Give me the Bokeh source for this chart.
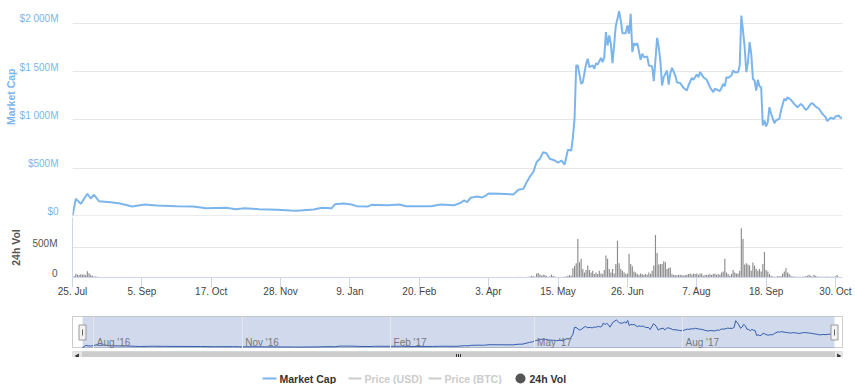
import numpy as np
import pandas as pd
from bokeh.plotting import figure
from bokeh.layouts import column
from bokeh.models import (Range1d, LinearAxis, FixedTicker, CustomJSTickFormatter,
                          Title, Span, Grid)
from bokeh.core.properties import value
from bokeh.embed import file_html
from bokeh.resources import INLINE

# ---------------- data ($ millions) ----------------
MC_DATES = [
    "2016-07-25", "2016-07-27", "2016-07-30", "2016-08-03", "2016-08-05", "2016-08-07",
    "2016-08-10", "2016-08-17", "2016-08-22", "2016-08-26", "2016-08-30", "2016-09-03",
    "2016-09-07", "2016-09-14", "2016-09-26", "2016-10-06", "2016-10-14", "2016-10-26",
    "2016-11-01", "2016-11-06", "2016-11-15", "2016-11-26", "2016-12-04", "2016-12-08",
    "2016-12-18", "2016-12-23", "2016-12-29", "2016-12-31", "2017-01-05", "2017-01-10",
    "2017-01-13", "2017-01-20", "2017-01-22", "2017-02-01", "2017-02-08", "2017-02-12",
    "2017-02-27", "2017-03-05", "2017-03-13", "2017-03-17", "2017-03-19", "2017-03-21",
    "2017-03-23", "2017-03-27", "2017-03-30", "2017-04-01", "2017-04-03", "2017-04-10",
    "2017-04-16", "2017-04-18", "2017-04-21", "2017-04-24", "2017-04-26", "2017-04-28",
    "2017-04-30", "2017-05-02", "2017-05-04", "2017-05-06", "2017-05-08", "2017-05-10",
    "2017-05-13", "2017-05-15", "2017-05-17", "2017-05-19", "2017-05-21", "2017-05-23",
    "2017-05-24", "2017-05-25", "2017-05-26", "2017-05-27", "2017-05-29", "2017-05-30",
    "2017-06-01", "2017-06-02", "2017-06-03", "2017-06-05", "2017-06-06", "2017-06-07",
    "2017-06-08", "2017-06-10", "2017-06-11", "2017-06-12", "2017-06-13", "2017-06-14",
    "2017-06-15", "2017-06-16", "2017-06-17", "2017-06-19", "2017-06-20", "2017-06-21",
    "2017-06-22", "2017-06-23", "2017-06-25", "2017-06-26", "2017-06-27", "2017-06-28",
    "2017-06-29", "2017-06-30", "2017-07-01", "2017-07-02", "2017-07-04", "2017-07-05",
    "2017-07-06", "2017-07-08", "2017-07-09", "2017-07-11", "2017-07-12", "2017-07-14",
    "2017-07-15", "2017-07-16", "2017-07-17", "2017-07-18", "2017-07-20", "2017-07-21",
    "2017-07-22", "2017-07-23", "2017-07-25", "2017-07-26", "2017-07-28", "2017-07-30",
    "2017-08-01", "2017-08-02", "2017-08-04", "2017-08-05", "2017-08-07", "2017-08-08",
    "2017-08-09", "2017-08-11", "2017-08-13", "2017-08-15", "2017-08-17", "2017-08-18",
    "2017-08-21", "2017-08-22", "2017-08-23", "2017-08-24", "2017-08-25", "2017-08-26",
    "2017-08-28", "2017-08-29", "2017-08-30", "2017-09-01", "2017-09-02", "2017-09-03",
    "2017-09-04", "2017-09-05", "2017-09-06", "2017-09-07", "2017-09-08", "2017-09-09",
    "2017-09-10", "2017-09-11", "2017-09-12", "2017-09-13", "2017-09-14", "2017-09-15",
    "2017-09-16", "2017-09-17", "2017-09-18", "2017-09-19", "2017-09-20", "2017-09-21",
    "2017-09-23", "2017-09-24", "2017-09-26", "2017-09-27", "2017-09-29", "2017-09-30",
    "2017-10-01", "2017-10-03", "2017-10-05", "2017-10-07", "2017-10-09", "2017-10-10",
    "2017-10-12", "2017-10-13", "2017-10-15", "2017-10-16", "2017-10-18", "2017-10-20",
    "2017-10-22", "2017-10-24", "2017-10-25", "2017-10-27", "2017-10-29", "2017-10-30",
    "2017-11-01", "2017-11-02", "2017-11-03",
]
MC_VALUES = [
    8, 183, 131, 235, 186, 225,
    159, 148, 138, 121, 104, 114,
    124, 114, 107, 104, 86, 90,
    76, 86, 76, 69, 62, 59,
    72, 90, 86, 128, 135, 124,
    107, 104, 121, 117, 124, 107,
    107, 124, 117, 141, 166, 148,
    193, 207, 197, 214, 238, 235,
    231, 228, 276, 286, 355, 414,
    459, 562, 597, 666, 655, 597,
    580, 556, 580, 538, 690, 683,
    821, 1011, 1563, 1563, 1373, 1390,
    1580, 1632, 1545, 1563, 1529, 1587,
    1573, 1642, 1597, 1649, 1908, 1770,
    1873, 1787, 1587, 1977, 2046, 2125,
    2029, 1897, 1897, 1977, 1891, 2098,
    1701, 1794, 1770, 1794, 1622, 1684,
    1649, 1656, 1563, 1552, 1400, 1849,
    1752, 1597, 1356, 1442, 1511, 1366,
    1483, 1539, 1459, 1390, 1380, 1332,
    1304, 1356, 1435, 1415, 1470, 1442,
    1494, 1442, 1415, 1338, 1287, 1322,
    1297, 1332, 1373, 1346, 1442, 1435,
    1459, 1511, 1494, 1494, 1563, 2080,
    1925, 1752, 1494, 1597, 1804, 1684,
    1425, 1408, 1304, 1415, 1346, 1338,
    942, 994, 932, 976, 1131, 1063,
    966, 994, 1011, 1097, 1218, 1201,
    1235, 1208, 1166, 1131, 1166, 1149,
    1104, 1115, 1166, 1173, 1139, 1115,
    1063, 1028, 987, 1022, 1011, 1035,
    1045, 1022, 1022,
]

# 24h volume, $ millions, one value per consecutive day
VOL_EARLY_START = "2016-07-26"
VOL_EARLY = [20, 62, 45, 40, 55, 45, 50, 40, 105, 70, 45, 30, 17, 15, 12, 10]
VOL_START = "2017-04-22"
VOL_DAILY = [
    11, 5, 8, 5, 8, 11, 17, 28, 20, 17,
    68, 74, 50, 34, 45, 40, 25, 11, 17, 45,
    25, 17, 8, 5, 5, 3, 11, 11, 15, 28,
    40, 28, 153, 190, 238, 640, 255, 312, 142, 85,
    125, 198, 125, 85, 113, 57, 85, 57, 113, 68,
    57, 125, 368, 312, 142, 85, 142, 68, 227, 612,
    238, 142, 113, 85, 57, 68, 397, 227, 187, 102,
    85, 57, 45, 68, 57, 45, 57, 45, 85, 57,
    113, 198, 709, 408, 215, 227, 227, 272, 255, 142,
    159, 165, 57, 42, 40, 36, 45, 40, 40, 28,
    40, 45, 57, 68, 45, 68, 57, 68, 45, 68,
    68, 28, 40, 45, 45, 57, 40, 57, 68, 45,
    57, 45, 85, 102, 312, 85, 57, 28, 57, 125,
    85, 68, 68, 113, 822, 640, 215, 238, 215, 198,
    113, 249, 198, 142, 113, 142, 102, 227, 425, 125,
    102, 57, 28, 17, 11, 11, 23, 17, 23, 68,
    102, 159, 85, 57, 28, 17, 17, 14, 11, 14,
    11, 14, 17, 20, 28, 45, 28, 17, 45, 28,
    17, 14, 11, 14, 11, 14, 17, 14, 11, 14,
    11, 20, 40, 11, 10, 10,
]

X_TICK_DATES = ["2016-07-25", "2016-09-05", "2016-10-17", "2016-11-28", "2017-01-09",
                "2017-02-20", "2017-04-03", "2017-05-15", "2017-06-26", "2017-08-07",
                "2017-09-18", "2017-10-30"]
X_TICK_LABELS = ["25. Jul", "5. Sep", "17. Oct", "28. Nov", "9. Jan", "20. Feb",
                 "3. Apr", "15. May", "26. Jun", "7. Aug", "18. Sep", "30. Oct"]
MC_TICKS = [0, 500, 1000, 1500, 2000]
MC_TICK_LABELS = ["$0", "$500M", "$1 000M", "$1 500M", "$2 000M"]
VOL_TICKS = [0, 500]
VOL_TICK_LABELS = ["0", "500M"]
NAV_TICK_DATES = ["2016-08-01", "2016-11-01", "2017-02-01", "2017-05-01", "2017-08-01"]
NAV_TICK_LABELS = ["Aug '16", "Nov '16", "Feb '17", "May '17", "Aug '17"]
LEGEND_NAMES = ["Market Cap", "Price (USD)", "Price (BTC)", "24h Vol"]
Y_TITLES = ["Market Cap", "24h Vol"]

# ---------------- helpers ----------------
def to_ms(dates):
    return [pd.Timestamp(d).value / 1e6 for d in dates]

def label_formatter(tick_values, tick_labels):
    return CustomJSTickFormatter(args=dict(tvals=list(tick_values), tlabs=list(tick_labels)), code="""
        let b = 0;
        for (let i = 1; i < tvals.length; i++) {
            if (Math.abs(tvals[i] - tick) < Math.abs(tvals[b] - tick)) { b = i; }
        }
        return tlabs[b];
    """)

def no_grids(p):
    for g in list(p.grid):
        g.visible = False

FONT = "Liberation Sans"
W = 855
BL, BR = 72, 13          # frame from x=72 to x=842 in every pane
DAY = 86400000.0

mc_x = to_ms(MC_DATES)
vol_x = to_ms(pd.date_range(VOL_EARLY_START, periods=len(VOL_EARLY), freq="D")) + \
        to_ms(pd.date_range(VOL_START, periods=len(VOL_DAILY), freq="D"))
vol_y = VOL_EARLY + VOL_DAILY
x_tick_ms = to_ms(X_TICK_DATES)
nav_tick_ms = to_ms(NAV_TICK_DATES)

x0 = mc_x[0]
x1 = mc_x[-1] + 0.25 * DAY

MC_TOP = 2132
VOL_TOP = 1000

def common(**kw):
    d = dict(toolbar_location=None, output_backend="svg", width=W,
             min_border_left=BL, min_border_right=BR)
    d.update(kw)
    return d

# ---------------- main pane ----------------
main = figure(**common(height=216, x_range=Range1d(x0, x1), y_range=Range1d(0, MC_TOP),
                       x_axis_location=None, y_axis_location=None,
                       min_border_top=10, min_border_bottom=0))
no_grids(main)
main.outline_line_color = None
shift_mc = 4.5 * MC_TOP / 206.0
main.extra_y_ranges = {"lab": Range1d(-shift_mc, MC_TOP - shift_mc)}
ax = LinearAxis(y_range_name="lab", ticker=FixedTicker(ticks=MC_TICKS),
                formatter=label_formatter(MC_TICKS, MC_TICK_LABELS))
ax.axis_line_color = None
ax.major_tick_line_color = None
ax.minor_tick_line_color = None
ax.major_tick_out = 0
ax.minor_tick_out = 0
ax.major_label_standoff = 14
ax.major_label_text_color = "#7cb5ec"
ax.major_label_text_font = FONT
ax.major_label_text_font_size = "10px"
main.add_layout(ax, "left")
main.add_layout(Title(text=Y_TITLES[0], align="right", offset=58, standoff=0,
                      text_color="#7cb5ec", text_font=FONT, text_font_size="10.5px",
                      text_font_style="bold"), "left")
main.add_layout(Grid(dimension=1, ticker=FixedTicker(ticks=MC_TICKS[1:]),
                     grid_line_color="#e6e6e6"))
main.add_layout(Span(location=0, dimension="width", line_color="#d9d9d9", line_width=2))
main.line(mc_x, MC_VALUES, line_color="#7cb5ec", line_width=2)

# ---------------- volume pane ----------------
vol = figure(**common(height=84, x_range=main.x_range, y_range=Range1d(0, VOL_TOP),
                      y_axis_location=None, min_border_top=1, min_border_bottom=23))
no_grids(vol)
vol.outline_line_color = None
xa = vol.xaxis[0]
xa.ticker = FixedTicker(ticks=x_tick_ms)
xa.formatter = label_formatter(x_tick_ms, X_TICK_LABELS)
xa.axis_line_color = "#ccd6eb"
xa.major_tick_line_color = "#ccd6eb"
xa.minor_tick_line_color = None
xa.major_tick_out = 10
xa.major_tick_in = 0
xa.major_label_standoff = -2
xa.major_label_text_color = "#444444"
xa.major_label_text_font = FONT
xa.major_label_text_font_size = "10px"
shift_v = 4.5 * VOL_TOP / 60.0
vol.extra_y_ranges = {"lab": Range1d(-shift_v, VOL_TOP - shift_v)}
va = LinearAxis(y_range_name="lab", ticker=FixedTicker(ticks=VOL_TICKS),
                formatter=label_formatter(VOL_TICKS, VOL_TICK_LABELS))
va.axis_line_color = "#ccd6eb"
va.major_tick_line_color = None
va.minor_tick_line_color = None
va.major_tick_out = 0
va.minor_tick_out = 0
va.major_label_standoff = 15
va.major_label_text_color = "#555555"
va.major_label_text_font = FONT
va.major_label_text_font_size = "10px"
va.axis_label = Y_TITLES[1]
va.axis_label_standoff = 7
va.axis_label_text_color = "#555555"
va.axis_label_text_font = FONT
va.axis_label_text_font_size = "10.5px"
va.axis_label_text_font_style = "bold"
vol.add_layout(va, "left")
vol.add_layout(Grid(dimension=1, ticker=FixedTicker(ticks=VOL_TICKS[1:]),
                    grid_line_color="#e6e6e6"))
vol.vbar(x=vol_x, top=vol_y, width=0.7 * DAY, fill_color="#8c8c8c", line_color=None)

# ---------------- navigator ----------------
mpp = (x1 - x0) / 752.0            # navigator series spans 752 px inside the 770 px frame
nx0, nx1 = x0 - 10 * mpp, x1 + 8 * mpp
NAV_LO, NAV_HI = -50, 2400
nav = figure(**common(height=48, x_range=Range1d(nx0, nx1), y_range=Range1d(NAV_LO, NAV_HI),
                      x_axis_location=None, y_axis_location=None,
                      min_border_top=16, min_border_bottom=0))
no_grids(nav)
nav.outline_line_color = "#cccccc"
nav.quad(left=[x0], right=[x1], bottom=[NAV_LO], top=[NAV_HI],
         fill_color="#6685c2", fill_alpha=0.3, line_color=None)
nav.add_layout(Grid(dimension=0, ticker=FixedTicker(ticks=nav_tick_ms),
                    grid_line_color="#e6e6e6", level="annotation"))
nav.line(mc_x, MC_VALUES, line_color="#335cad", line_width=1)
nav.text(x=nav_tick_ms, y=[NAV_LO] * len(nav_tick_ms), text=NAV_TICK_LABELS,
         x_offset=3, y_offset=-6, text_align="left", text_baseline="alphabetic",
         text_font=value(FONT), text_font_size="10px", text_color="#777777")
mid_y = (NAV_LO + NAV_HI) / 2
nav.rect(x=[x0, x1], y=[mid_y, mid_y], width=7, height=15, width_units="screen",
         height_units="screen", fill_color="#f2f2f2", line_color="#999999")
nav.scatter(x=[x0, x1], y=[mid_y, mid_y], marker="dash", angle=np.pi / 2, size=6,
            line_color="#666666")

# ---------------- scrollbar ----------------
sb = figure(**common(height=9, x_range=Range1d(nx0, nx1), y_range=Range1d(0, 1),
                     x_axis_location=None, y_axis_location=None,
                     min_border_top=0, min_border_bottom=0))
no_grids(sb)
sb.outline_line_color = None
sb.quad(left=[nx0], right=[nx1], bottom=[0], top=[1], fill_color="#f2f2f2",
        line_color=None)
sb.quad(left=[x0], right=[x1], bottom=[0], top=[1], fill_color="#cccccc",
        line_color="#bbbbbb")
sb.quad(left=[nx0, x1], right=[x0, nx1], bottom=[0, 0], top=[1, 1],
        fill_color="#e6e6e6", line_color="#cccccc")
sb.scatter(x=[(nx0 + x0) / 2, (x1 + nx1) / 2], y=[0.5, 0.5], marker="triangle",
           angle=[np.pi / 2, -np.pi / 2], size=5, fill_color="#333333", line_color=None)
mx = (x0 + x1) / 2
sb.scatter(x=[mx - 2 * mpp, mx, mx + 2 * mpp], y=[0.5] * 3, marker="dash",
           angle=np.pi / 2, size=4, line_color="#333333")

# ---------------- legend ----------------
lg = figure(**common(height=27, x_range=Range1d(BL, W - BR), y_range=Range1d(0, 27),
                     x_axis_location=None, y_axis_location=None,
                     min_border_top=0, min_border_bottom=0))
no_grids(lg)
lg.outline_line_color = None
lg.segment(x0=[262, 348, 428], y0=[6, 6, 6], x1=[276, 361, 441], y1=[6, 6, 6],
           line_color=["#7cb5ec", "#cccccc", "#cccccc"], line_width=2)
lg.scatter(x=[520], y=[6], size=10, fill_color="#555555", line_color=None)
lg.text(x=[279, 364, 444, 529], y=[6] * 4, text=LEGEND_NAMES,
        text_color=["#333333", "#cccccc", "#cccccc", "#333333"],
        text_font=value(FONT), text_font_size="10.5px", text_font_style="bold",
        text_baseline="middle", text_align="left")

layout = column(main, vol, nav, sb, lg, spacing=0)
open("out.html", "w").write(file_html(layout, INLINE))
